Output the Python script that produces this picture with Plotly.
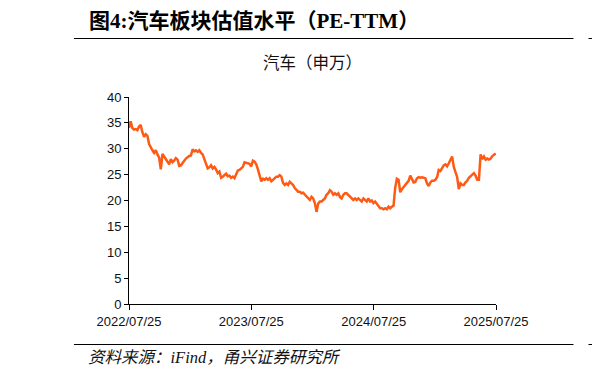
import pandas as pd
import plotly.graph_objects as go

# Data: PE-TTM of the automobile sector (SW), sampled every 5 days from 2022-07-25
start_date = "2022-07-25"
step = "5D"
pe_values = [
    34.0, 35.3, 34.0, 33.7, 33.8, 33.6, 34.3, 34.6, 33.2, 32.3,
    32.8, 32.5, 30.9, 30.2, 29.7, 29.2, 29.7, 28.9, 28.3, 26.0,
    29.0, 28.5, 27.9, 27.6, 27.0, 28.0, 27.4, 27.7, 28.2, 27.9,
    26.7, 26.8, 27.4, 27.7, 28.1, 28.4, 28.6, 28.7, 29.9, 29.5,
    29.7, 29.4, 29.7, 29.2, 28.9, 28.0, 27.0, 26.2, 26.4, 26.8,
    26.2, 26.5, 26.0, 25.3, 25.6, 24.4, 24.6, 24.9, 25.2, 24.7,
    24.8, 24.4, 24.6, 24.3, 25.2, 25.8, 25.9, 26.2, 26.5, 27.4,
    27.3, 27.2, 27.1, 26.6, 27.7, 27.5, 27.0, 26.0, 25.0, 23.7,
    24.2, 24.0, 24.3, 24.0, 24.3, 23.7, 24.0, 24.3, 24.6, 24.6,
    24.9, 24.6, 23.4, 23.0, 23.3, 23.0, 23.6, 23.3, 23.0, 22.4,
    22.0, 21.7, 21.7, 21.4, 21.5, 21.1, 20.7, 20.5, 20.1, 20.7,
    20.4, 19.5, 17.8, 19.4, 19.8, 19.8, 20.1, 20.4, 21.1, 21.4,
    22.0, 21.7, 21.1, 21.4, 21.1, 21.4, 20.7, 20.4, 21.1, 21.4,
    21.4, 21.1, 20.7, 20.4, 20.1, 20.4, 20.1, 20.4, 20.1, 19.8,
    20.4, 20.1, 19.8, 20.4, 19.8, 20.0, 19.5, 19.8, 19.3, 18.8,
    18.5, 18.5, 18.3, 18.5, 18.3, 18.8, 18.5, 18.8, 19.0, 22.5,
    24.2, 24.0, 21.6, 22.2, 22.5, 23.0, 23.4, 23.8, 24.8, 24.0,
    23.5, 23.6, 24.3, 24.5, 24.4, 24.5, 24.4, 24.3, 23.3, 22.8,
    23.5, 23.8, 23.8, 24.0, 24.5, 25.9, 25.7, 26.4, 26.8, 27.0,
    26.6, 27.2, 27.8, 28.5, 26.5, 25.6, 24.5, 22.2, 23.3, 23.0,
    23.0, 23.5, 23.8, 24.4, 24.7, 25.1, 25.3, 24.8, 24.0, 24.0,
    28.9, 28.0, 28.5, 27.9, 28.1, 27.9, 28.1, 28.6, 28.9, 29.1,
]
dates = pd.date_range(start_date, periods=len(pe_values), freq=step)

x_tick_vals = ["2022-07-25", "2023-07-25", "2024-07-25", "2025-07-25"]
x_tick_text = ["2022/07/25", "2023/07/25", "2024/07/25", "2025/07/25"]
y_tick_vals = [0, 5, 10, 15, 20, 25, 30, 35, 40]

title_text = "图4:汽车板块估值水平（PE-TTM）"
chart_title = "汽车（申万）"
source_text = "资料来源：iFind，甬兴证券研究所"

# the page body adds an 8px margin; compensate so page positions match
OFF = 8
PL, PR, PT, PB = 129, 495.6, 97, 304  # plot area in page pixels

fig = go.Figure()
fig.add_trace(go.Scatter(
    x=dates, y=pe_values, mode="lines",
    line=dict(color="#FF5A14", width=2.5),
    showlegend=False, hoverinfo="skip",
))

sans = "Liberation Sans, Arial, Noto Sans CJK SC, sans-serif"
fig.update_layout(
    width=600, height=375,
    margin=dict(l=PL - OFF, r=600 - (PR - OFF), t=PT - OFF, b=375 - (PB - OFF), autoexpand=False),
    paper_bgcolor="white", plot_bgcolor="white",
    xaxis=dict(
        range=["2022-07-25", "2025-07-25"],
        tickvals=x_tick_vals, ticktext=x_tick_text,
        showgrid=False, zeroline=False,
        showline=True, linecolor="#000000", linewidth=1,
        ticks="outside", ticklen=5, tickcolor="#000000",
        tickfont=dict(family=sans, size=13, color="#111111"),
    ),
    yaxis=dict(
        range=[0, 40], tickvals=y_tick_vals,
        showgrid=False, zeroline=False,
        showline=True, linecolor="#000000", linewidth=1,
        ticks="outside", ticklen=4, tickcolor="#000000",
        tickfont=dict(family=sans, size=13, color="#111111"),
    ),
)

W = PR - PL
H = PB - PT


def px(xp):
    return (xp - PL) / W


def py(yp):
    return (PB - yp) / H


line_style = dict(color="#000000", width=1)
for yy in (38.5, 344.5):
    fig.add_shape(type="line", xref="paper", yref="paper",
                  x0=px(74), x1=px(573), y0=py(yy), y1=py(yy), line=line_style)
    fig.add_shape(type="line", xref="paper", yref="paper",
                  x0=px(588), x1=px(610), y0=py(yy), y1=py(yy), line=line_style)

fig.add_annotation(
    text="<b>" + title_text + "</b>", xref="paper", yref="paper",
    x=px(87), y=py(21), xanchor="left", yanchor="middle", showarrow=False,
    font=dict(family="Liberation Serif, Noto Sans CJK SC, serif", size=21, color="#000000"),
)
fig.add_annotation(
    text=chart_title, xref="paper", yref="paper",
    x=px(312), y=py(62), xanchor="center", yanchor="middle", showarrow=False,
    font=dict(family="Noto Sans CJK SC, sans-serif", size=16.5, color="#111111"),
)
fig.add_annotation(
    text="<i>" + source_text + "</i>", xref="paper", yref="paper",
    x=px(86), y=py(357), xanchor="left", yanchor="middle", showarrow=False,
    font=dict(family="Liberation Serif, Noto Sans CJK SC, serif", size=16.5, color="#111111"),
)

fig.write_html("out.html")
